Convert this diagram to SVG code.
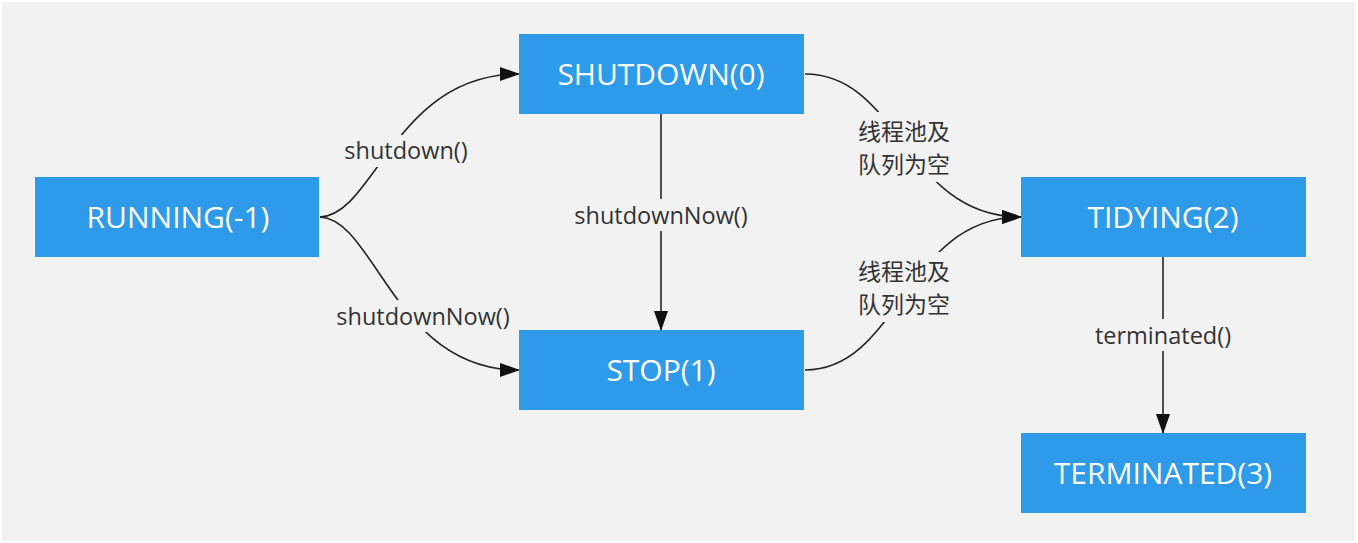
<svg xmlns="http://www.w3.org/2000/svg" width="1358" height="543" viewBox="0 0 1358 543">
<style>
.node{fill:#2e9aea;}
.nt{font-family:"Open Sans","Noto Sans",sans-serif;font-size:30px;fill:#ffffff;text-anchor:middle;dominant-baseline:central;}
.edge{fill:none;stroke:#222;stroke-width:1.6;}
.lbl{font-family:"Open Sans","Noto Sans","Noto Sans CJK SC",sans-serif;font-size:23.5px;fill:#333;text-anchor:middle;dominant-baseline:central;}
.cjk{font-family:"Noto Sans CJK SC",sans-serif;font-size:23px;fill:#333;text-anchor:middle;dominant-baseline:central;}
.lblbg{fill:#f2f2f2;}
</style>
<defs>
<marker id="arrow" viewBox="0 0 20 14" refX="19" refY="7" markerWidth="20" markerHeight="14" markerUnits="userSpaceOnUse" orient="auto">
<path d="M0,0 L20,7 L0,14 Z" fill="#111"/>
</marker>
</defs>
<rect x="0" y="0" width="1358" height="543" fill="#ffffff"/>
<rect x="2" y="2" width="1353" height="539" fill="#f2f2f2"/>
<g id="connectors">
<path class="edge" d="M320,217 C375,215 395,74 519,74" marker-end="url(#arrow)"/>
<path class="edge" d="M320,217 C375,219 395,370 519,370" marker-end="url(#arrow)"/>
<path class="edge" d="M661,114 L661,330" marker-end="url(#arrow)"/>
<path class="edge" d="M805,74 C900,74 905,217 1021,217" marker-end="url(#arrow)"/>
<path class="edge" d="M805,370 C900,370 905,217 1021,217" marker-end="url(#arrow)"/>
<path class="edge" d="M1163,257 L1163,433" marker-end="url(#arrow)"/>
<rect class="lblbg" x="338" y="135" width="136" height="32"/>
<text class="lbl" x="406" y="150">shutdown()</text>
<rect class="lblbg" x="332" y="300" width="182" height="32"/>
<text class="lbl" x="423" y="316">shutdownNow()</text>
<rect class="lblbg" x="570" y="199" width="182" height="32"/>
<text class="lbl" x="661" y="215">shutdownNow()</text>
<rect class="lblbg" x="852" y="112" width="104" height="70"/>
<text class="cjk" x="904" y="130">线程池及</text>
<text class="cjk" x="904" y="163">队列为空</text>
<rect class="lblbg" x="852" y="252" width="104" height="70"/>
<text class="cjk" x="904" y="270">线程池及</text>
<text class="cjk" x="904" y="303">队列为空</text>
<rect class="lblbg" x="1090" y="319" width="146" height="32"/>
<text class="lbl" x="1163" y="335">terminated()</text>
</g>
<g id="running">
<rect class="node" x="35" y="177" width="284" height="80"/>
<text class="nt" x="178" y="216">RUNNING(-1)</text>
</g>
<g id="shutdown">
<rect class="node" x="519" y="34" width="285" height="80"/>
<text class="nt" x="661" y="73">SHUTDOWN(0)</text>
</g>
<g id="stop">
<rect class="node" x="519" y="330" width="285" height="80"/>
<text class="nt" x="661" y="369">STOP(1)</text>
</g>
<g id="tidying">
<rect class="node" x="1021" y="177" width="285" height="80"/>
<text class="nt" x="1163" y="216">TIDYING(2)</text>
</g>
<g id="terminated">
<rect class="node" x="1021" y="433" width="285" height="80"/>
<text class="nt" x="1163" y="472">TERMINATED(3)</text>
</g>
</svg>
